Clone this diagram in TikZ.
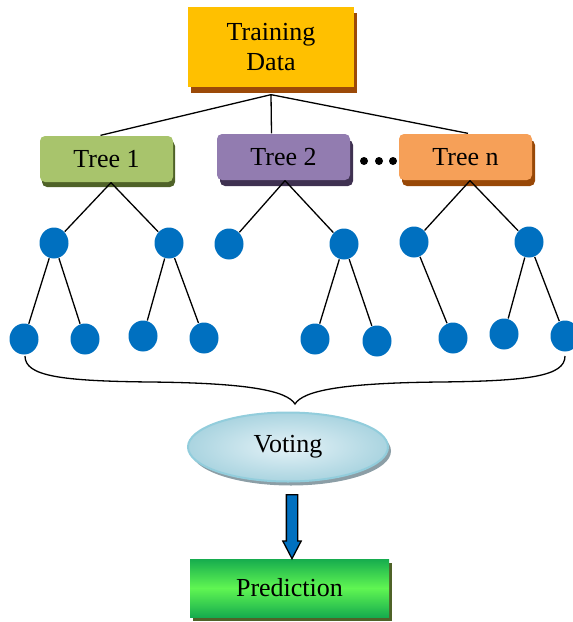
\documentclass[tikz,border=0pt]{standalone}
\usepackage{fontspec}
\setmainfont{Liberation Serif}
\usetikzlibrary{positioning, shapes.geometric, shapes.arrows, shadows, calc}

\definecolor{datafill}{RGB}{255,192,0}
\definecolor{datashade}{RGB}{156,74,8}
\definecolor{treeafill}{RGB}{168,196,108}
\definecolor{treeashade}{RGB}{79,98,40}
\definecolor{treebfill}{RGB}{146,124,176}
\definecolor{treebshade}{RGB}{63,49,81}
\definecolor{treenfill}{RGB}{246,160,88}
\definecolor{treenshade}{RGB}{152,72,7}
\definecolor{leafblue}{RGB}{0,112,192}
\definecolor{votelight}{RGB}{228,242,247}
\definecolor{votedark}{RGB}{170,212,224}
\definecolor{voteline}{RGB}{146,205,220}
\definecolor{voteshade}{RGB}{140,158,166}
\definecolor{predtop}{RGB}{22,172,78}
\definecolor{predmid}{RGB}{96,246,82}
\definecolor{predshade}{RGB}{79,98,40}

\tikzset{
	big/.style={font=\fontsize{26}{30}\selectfont},
	treebox/.style={big, rectangle, minimum width=133pt, minimum height=46pt, rounded corners=5pt, inner sep=0pt},
	leaf/.style={ellipse, fill=leafblue, minimum width=29pt, minimum height=31pt, inner sep=0pt}
}

\begin{document}
\begin{tikzpicture}[x=1pt, y=-1pt, line width=1.3pt]
				\useasboundingbox (0,0) rectangle (573,622);
				\node[big, rectangle, fill=datafill, minimum width=166pt, minimum height=80pt, align=center, general shadow={fill=datashade, shadow xshift=3pt, shadow yshift=-6pt}] (data) at (271,47) {Training\\Data};
				\node[treebox, fill=treeafill, general shadow={fill=treeashade, shadow xshift=2pt, shadow yshift=-5pt}] (t1) at (106.5,159) {Tree 1};
				\node[treebox, fill=treebfill, general shadow={fill=treebshade, shadow xshift=3pt, shadow yshift=-6pt}] (t2) at (283.5,157) {Tree 2};
				\node[treebox, fill=treenfill, general shadow={fill=treenshade, shadow xshift=3pt, shadow yshift=-6pt}] (tn) at (465.5,157) {Tree n};
				\coordinate (hub) at ($(data.south)+(0,7)$);
				\draw (hub) -- ([xshift=-6pt]t1.north)
					(hub) -- ([xshift=-12pt]t2.north)
					(hub) -- ([xshift=2.5pt]tn.north);
				\foreach \x in {364,379,393}
					\fill (\x,161) circle (4pt);
				\foreach \n/\x/\y in {A1/54/243, A2/169/243, B1/229/244, B2/344/244, C1/414/242, C2/529/242,
					a1/24/339, a2/85/339, a3/143/336, a4/204/338, b1/315/339, b2/377/341, c1/453/338, c2/504/334, c3/565/336}
					\node[leaf] (\n) at (\x,\y) {};
				\foreach \b in {A1,A2}
					\draw ([xshift=4.5pt]t1.south) -- (\b);
				\foreach \b in {B1,B2}
					\draw ([xshift=1.5pt]t2.south) -- (\b);
				\foreach \b in {C1,C2}
					\draw ([xshift=4.5pt]tn.south) -- (\b);
				\foreach \a/\b in {A1/a1, A1/a2, A2/a3, A2/a4, B2/b1, B2/b2, C1/c1, C2/c2, C2/c3}
					\draw (\a) -- (\b);
				\coordinate (bl) at (25,356);
				\coordinate (br) at (565,356);
				\coordinate (tip) at (295,404);
				\draw (bl) .. controls (25,376) and (60,381) .. (150,382) .. controls (250,383) and (287,391) .. (tip)
					.. controls (303,391) and (340,383) .. (440,382) .. controls (530,381) and (565,376) .. (br);
				\node[big, ellipse, minimum width=200pt, minimum height=69pt, draw=voteline, line width=2pt, inner color=votelight, outer color=votedark, general shadow={fill=voteshade, shadow xshift=3pt, shadow yshift=-4pt}] (vote) at (288,447) {Voting};
				\node[big, rectangle, minimum width=199pt, minimum height=58pt, top color=predtop, bottom color=predtop, middle color=predmid, general shadow={fill=predshade, shadow xshift=3pt, shadow yshift=-4pt}] (pred) at (289.5,588) {Prediction};
				\node[single arrow, draw=black, fill=leafblue, line width=1.3pt, inner sep=5pt, minimum height=64pt, minimum width=17pt, single arrow head extend=3.5pt, single arrow tip angle=55, rotate=-90, anchor=tail] (arr) at (292,494) {};
			\end{tikzpicture}
\end{document}
